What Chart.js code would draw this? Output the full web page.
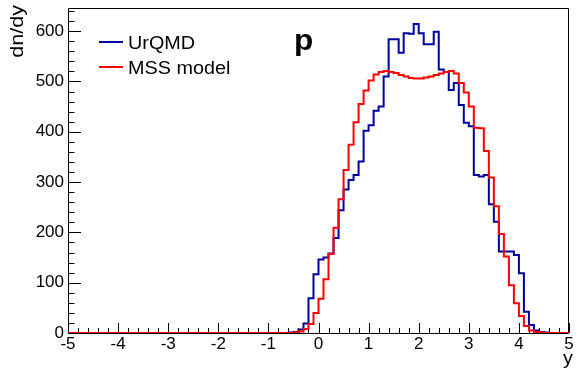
<!DOCTYPE html>
<html><head><meta charset="utf-8">
<script src="https://cdn.jsdelivr.net/npm/chart.js@4/dist/chart.umd.min.js"></script>
<style>html,body{margin:0;padding:0;background:#fff;}#wrap{width:576px;height:371px;position:relative;}</style>
</head><body><div id="wrap"><canvas id="c" width="576" height="371"></canvas></div>
<script>
// histogram binning (100 bins from -5 to 5)
const binLow = -5;
const binWidth = 0.1;
const seriesNames = ['UrQMD', 'MSS model'];
const urqmd = [
  0,0,0,0,0,0,0,0,0,0,
  0,0,0,0,0,0,0,0,0,0,
  0,0,0,0,0,0,0,0,0,0,
  0,0,0,0,0,0,0,0,0,0,
  0,0,0,0,1,2,7,19,69,117,
  146,150,158,189,244,285,304,314,341,402,
  413,442,450,510,584,584,557,596,595,614,
  596,574,574,599,524,519,483,497,453,418,
  411,314,311,314,256,221,162,162,162,155,
  119,42,16,5,2,1,0,0,0,0
];
const mss = [
  0,0,0,0,0,0,0,0,0,0,
  0,0,0,0,0,0,0,0,0,0,
  0,0,0,0,0,0,0,0,0,0,
  0,0,0,0,0,0,0,0,0,0,
  0,0,0,0,0,1,3,8,18,40,
  68,107,157,209,266,324,374,419,455,482,
  502,514,519,521,519,517,513,510,507,506,
  506,508,510,513,516,519,521,516,497,478,
  450,408,407,362,309,252,197,152,95,59,
  34,14,5,2,1,0,0,0,0,0
];
const xTickLabels = ['-5','-4','-3','-2','-1','0','1','2','3','4','5'];
const yTickLabels = ['0','100','200','300','400','500','600'];

const FONT = '"Liberation Sans", Arial, Helvetica, sans-serif';
function toPoints(vals){
  const pts = vals.map((v,i)=>({x: binLow + i*binWidth, y: v}));
  pts.push({x: binLow + vals.length*binWidth, y: vals[vals.length-1]});
  return pts;
}

const decor = {
  id: 'decor',
  beforeDatasetsDraw(chart){
    const ctx = chart.ctx, a = chart.chartArea, xs = chart.scales.x, ys = chart.scales.y;
    ctx.save();
    ctx.strokeStyle = '#000'; ctx.lineWidth = 1;
    ctx.beginPath();
    ctx.rect(Math.round(a.left)+0.5, Math.round(a.top)+0.5, Math.round(a.right-a.left)-1, Math.round(a.bottom-a.top));
    ctx.stroke();
    const xt = xs.ticks.map(t=>t.value);
    ctx.beginPath();
    for (let i=0;i<xt.length;i++){
      const px = Math.round(xs.getPixelForValue(xt[i]))+0.5;
      ctx.moveTo(px, a.bottom); ctx.lineTo(px, a.bottom-10);
      if (i < xt.length-1){
        for (let k=1;k<5;k++){
          const v = xt[i] + (xt[i+1]-xt[i])*k/5;
          const p = Math.round(xs.getPixelForValue(v))+0.5;
          ctx.moveTo(p, a.bottom); ctx.lineTo(p, a.bottom-5);
        }
      }
    }
    const yt = ys.ticks.map(t=>t.value);
    const step = yt[1]-yt[0];
    for (let i=0;i<yt.length;i++){
      const py = Math.round(ys.getPixelForValue(yt[i]))+0.5;
      ctx.moveTo(a.left, py); ctx.lineTo(a.left+13, py);
      for (let k=1;k<5;k++){
        const v = yt[i] + step*k/5;
        if (v > ys.max) break;
        const p = Math.round(ys.getPixelForValue(v))+0.5;
        ctx.moveTo(a.left, p); ctx.lineTo(a.left+6.5, p);
      }
    }
    ctx.stroke();
    ctx.restore();
  },
  afterDraw(chart){
    const ctx = chart.ctx;
    ctx.save();
    ctx.fillStyle = '#000';
    ctx.save();
    ctx.translate(23, 5);
    ctx.rotate(-Math.PI/2);
    ctx.scale(1.2, 1);
    ctx.font = '18px ' + FONT;
    ctx.textAlign = 'right'; ctx.textBaseline = 'alphabetic';
    ctx.fillText('dn/dy', 0, 0);
    ctx.restore();
    ctx.save();
    ctx.font = '18px ' + FONT;
    ctx.textAlign = 'right'; ctx.textBaseline = 'alphabetic';
    ctx.translate(573, 364); ctx.scale(1.1,1);
    ctx.fillText('y', 0, 0);
    ctx.restore();
    const ds = chart.data.datasets;
    const leg = [{name: seriesNames[0], color: ds[1].borderColor, y: 42},
                 {name: seriesNames[1], color: ds[0].borderColor, y: 67}];
    leg.forEach(l=>{
      ctx.strokeStyle = l.color; ctx.lineWidth = 2;
      ctx.beginPath(); ctx.moveTo(99, l.y); ctx.lineTo(123, l.y); ctx.stroke();
      ctx.save();
      ctx.font = '18px ' + FONT;
      ctx.textAlign = 'left'; ctx.textBaseline = 'alphabetic';
      ctx.translate(128, l.y + 6.5); ctx.scale(1.1, 1);
      ctx.fillText(l.name, 0, 0);
      ctx.restore();
    });
    ctx.save();
    ctx.font = 'bold 30px ' + FONT;
    ctx.textAlign = 'left'; ctx.textBaseline = 'alphabetic';
    ctx.translate(294, 50); ctx.scale(1.05,1);
    ctx.fillText('p', 0, 0);
    ctx.restore();
    ctx.restore();
  }
};

new Chart(document.getElementById('c'), {
  type: 'line',
  data: {
    datasets: [
      {label: seriesNames[1], data: toPoints(mss), borderColor: '#ff0000', borderWidth: 2,
       stepped: true, pointRadius: 0, fill: false, tension: 0, order: 0},
      {label: seriesNames[0], data: toPoints(urqmd), borderColor: '#00009c', borderWidth: 2,
       stepped: true, pointRadius: 0, fill: false, tension: 0, order: 1}
    ]
  },
  options: {
    responsive: false, animation: false, devicePixelRatio: 1,
    layout: {padding: {top: 8, right: 7, left: 0, bottom: 0}},
    plugins: {legend: {display: false}, tooltip: {enabled: false}, title: {display: false}},
    scales: {
      x: {
        type: 'linear', min: -5, max: 5,
        grid: {display: false, drawTicks: false}, border: {display: false},
        ticks: {stepSize: 1, includeBounds: false, padding: 1, color: '#000', maxRotation: 0, autoSkip: false,
          font: {family: FONT, size: 17},
          callback: (v, i) => xTickLabels[i] !== undefined ? xTickLabels[i] : ''},
        afterFit: s => { s.height = 38; s.paddingLeft = 0; s.paddingRight = 0; }
      },
      y: {
        type: 'linear', min: 0, max: 646,
        grid: {display: false, drawTicks: false}, border: {display: false},
        ticks: {stepSize: 100, includeBounds: false, padding: 4, color: '#000',
          font: {family: FONT, size: 17},
          callback: (v, i) => yTickLabels.includes(String(v)) ? String(v) : ''},
        afterFit: s => { s.width = 68; s.paddingTop = 0; s.paddingBottom = 0; }
      }
    }
  },
  plugins: [decor]
});
</script></body></html>
